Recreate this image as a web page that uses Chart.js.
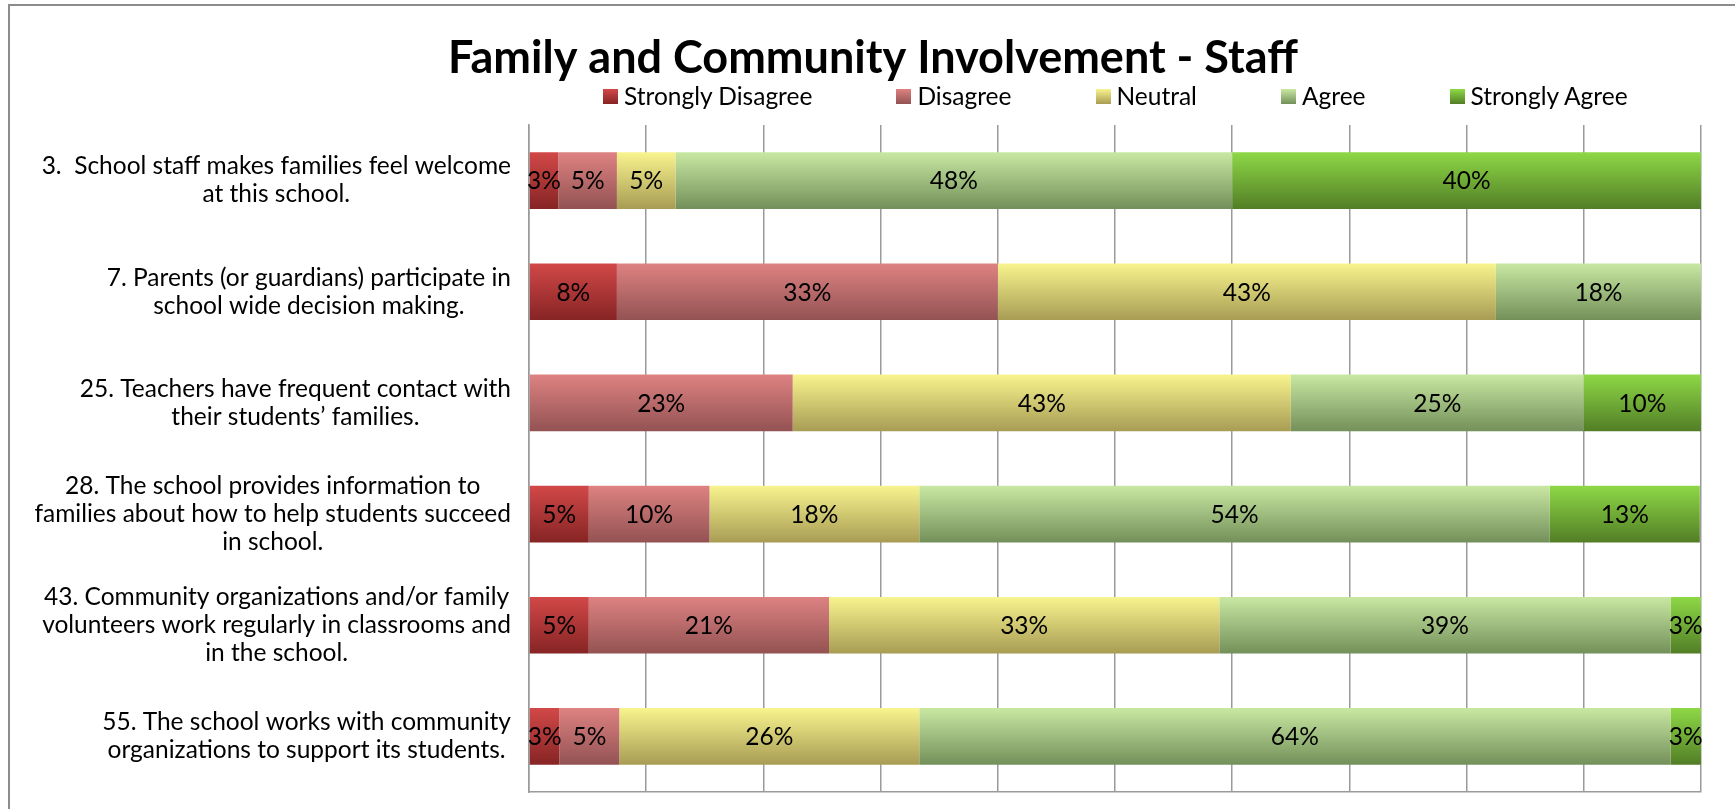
<!DOCTYPE html>
<html>
<head>
<meta charset="utf-8">
<title>Family and Community Involvement - Staff</title>
<script src="https://cdn.jsdelivr.net/npm/chart.js@4.4.1/dist/chart.umd.min.js"></script>
<style>
  html, body { margin: 0; padding: 0; background: #fff; overflow: hidden; }
  #wrap { position: relative; width: 1735px; height: 809px; }
  #frame { position: absolute; left: 8px; top: 4px; width: 1800px; height: 900px;
           border-left: 2px solid #8c8c8c; border-top: 2px solid #8c8c8c; pointer-events: none; }
  #legend { position: absolute; left: 603px; top: 83px; display: flex;
            font: 24.5px Lato, "Open Sans", sans-serif; line-height: 26px; color: #000; }
  #legend .item { display: flex; align-items: center; margin-right: 84px; }
  #legend .box { width: 15px; height: 15px; margin-right: 6px; }
</style>
</head>
<body>
<div id="wrap">
  <canvas id="surveyChart" width="1735" height="809"></canvas>
  <div id="legend"></div>
  <div id="frame"></div>
</div>
<script>
// survey items, one array of wrapped lines per question
const questions = [
    ["3.  School staff makes families feel welcome", "at this school."],
    ["7. Parents (or guardians) participate in", "school wide decision making."],
    ["25. Teachers have frequent contact with", "their students’ families."],
    ["28. The school provides information to", "families about how to help students succeed", "in school."],
    ["43. Community organizations and/or family", "volunteers work regularly in classrooms and", "in the school."],
    ["55. The school works with community", "organizations to support its students."]
];

const seriesNames = ["Strongly Disagree", "Disagree", "Neutral", "Agree", "Strongly Agree"];

// percent of staff responses
const stronglyDisagree = [2.5, 7.5, 0, 5.1, 5.1, 2.6];
const disagree = [5, 32.5, 22.5, 10.3, 20.5, 5.1];
const neutral = [5, 42.5, 42.5, 17.9, 33.3, 25.6];
const agree = [47.5, 17.5, 25, 53.8, 38.5, 64.1];
const stronglyAgree = [40, 0, 10, 12.8, 2.6, 2.6];

const xMax = 100;
const xStep = 10;

// gradient stops (top -> bottom) per series
const topColors = ["#d24848", "#de8282", "#f8f48e", "#c8e8a2", "#8ed846"];
const bottomColors = ["#862424", "#935252", "#a89c54", "#74905a", "#527e26"];

const BAR_PCT = 0.51;
const FONT = 'Lato, "Open Sans", sans-serif';
const TEXT_SIZE = 24.5;

function barGradient(i) {
    return function (ctx) {
        const chart = ctx.chart;
        const yScale = chart.scales.y;
        if (ctx.type !== 'data' || !yScale || !chart.chartArea) return topColors[i];
        const center = yScale.getPixelForValue(ctx.dataIndex);
        const half = yScale.height / questions.length * BAR_PCT / 2;
        if (!isFinite(center) || !isFinite(half)) return topColors[i];
        const g = chart.ctx.createLinearGradient(0, center - half, 0, center + half);
        g.addColorStop(0, topColors[i]);
        g.addColorStop(1, bottomColors[i]);
        return g;
    };
}

const seriesValues = [stronglyDisagree, disagree, neutral, agree, stronglyAgree];

const datasets = seriesNames.map((name, i) => ({
    label: name,
    data: seriesValues[i],
    backgroundColor: barGradient(i),
    borderWidth: 0,
    barPercentage: BAR_PCT,
    categoryPercentage: 1
}));

// percent labels centred on each segment
const segmentLabels = {
    id: 'segmentLabels',
    afterDatasetsDraw(chart) {
        const c = chart.ctx;
        c.save();
        c.font = TEXT_SIZE + 'px ' + FONT;
        c.fillStyle = '#000';
        c.textAlign = 'center';
        c.textBaseline = 'middle';
        chart.data.datasets.forEach((ds, d) => {
            chart.getDatasetMeta(d).data.forEach((bar, i) => {
                const v = ds.data[i];
                if (!v) return;
                const p = bar.getProps(['x', 'y', 'base'], true);
                c.fillText(Math.round(v) + '%', (p.x + p.base) / 2, p.y + 1);
            });
        });
        c.restore();
    }
};

// question text, each block right-aligned to the axis with lines centred inside it
const questionLabels = {
    id: 'questionLabels',
    afterDraw(chart) {
        const yScale = chart.scales.y;
        const c = chart.ctx;
        c.save();
        c.font = TEXT_SIZE + 'px ' + FONT;
        c.fillStyle = '#000';
        c.textAlign = 'center';
        c.textBaseline = 'middle';
        const right = yScale.right - 18;
        questions.forEach((lines, i) => {
            const widest = Math.max(...lines.map(l => c.measureText(l).width));
            const cx = right - widest / 2;
            const cy = yScale.getPixelForValue(i);
            lines.forEach((line, k) => {
                c.fillText(line, cx, cy + (k - (lines.length - 1) / 2) * 28);
            });
        });
        c.restore();
    }
};

const chart = new Chart(document.getElementById("surveyChart"), {
    type: 'bar',
    data: { labels: questions, datasets: datasets },
    options: {
        indexAxis: 'y',
        responsive: false,
        animation: false,
        layout: { padding: { left: 45, right: 34, top: 0, bottom: 17 } },
        plugins: {
            legend: { display: false },
            tooltip: { enabled: false },
            title: {
                display: true,
                text: 'Family and Community Involvement - Staff',
                color: '#000',
                font: { family: FONT, size: 45, weight: 'bold', lineHeight: 1.2 },
                padding: { top: 31, bottom: 40 }
            }
        },
        scales: {
            x: {
                stacked: true,
                min: 0,
                max: xMax,
                ticks: { display: false, stepSize: xStep },
                grid: { color: '#9a9a9a', lineWidth: 1.5, drawTicks: false },
                border: { display: true, color: '#9a9a9a', width: 1.5 }
            },
            y: {
                stacked: true,
                ticks: { display: false },
                grid: { display: false },
                border: { display: true, color: '#9a9a9a', width: 1.5 },
                afterFit: function (scale) { scale.width = 484; }
            }
        }
    },
    plugins: [segmentLabels, questionLabels]
});

// legend built from the series
const legendEl = document.getElementById("legend");
seriesNames.forEach((name, i) => {
    const item = document.createElement("div");
    item.className = "item";
    const box = document.createElement("span");
    box.className = "box";
    box.style.background = "linear-gradient(" + topColors[i] + ", " + bottomColors[i] + ")";
    const text = document.createElement("span");
    text.textContent = name;
    item.appendChild(box);
    item.appendChild(text);
    legendEl.appendChild(item);
});
</script>
</body>
</html>
